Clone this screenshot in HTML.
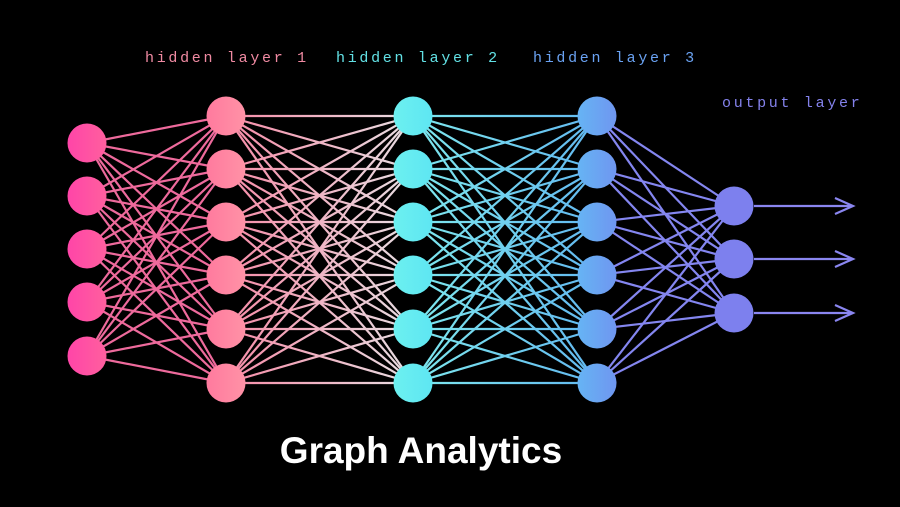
<!DOCTYPE html>
<html><head><meta charset="utf-8"><style>
html,body{margin:0;padding:0;background:#000;width:900px;height:507px;overflow:hidden}
</style></head><body>
<svg id="s" width="900" height="507" xmlns="http://www.w3.org/2000/svg" style="position:absolute;left:0;top:0">
<defs>
<linearGradient id="g12" x1="226" x2="413" y1="0" y2="0" gradientUnits="userSpaceOnUse"><stop offset="0" stop-color="#f78aa6"/><stop offset="1" stop-color="#e8e0e4"/></linearGradient>
<linearGradient id="g23" x1="413" x2="597" y1="0" y2="0" gradientUnits="userSpaceOnUse"><stop offset="0" stop-color="#7ee8ee"/><stop offset="1" stop-color="#62b8f0"/></linearGradient>
<linearGradient id="gi" x1="0" x2="1"><stop offset="0" stop-color="#ff45a8"/><stop offset="1" stop-color="#ff5f9e"/></linearGradient>
<linearGradient id="gh1" x1="0" x2="1"><stop offset="0" stop-color="#ff7a9e"/><stop offset="1" stop-color="#ff92a6"/></linearGradient>
<linearGradient id="gh2" x1="0" x2="1"><stop offset="0" stop-color="#6cf0f0"/><stop offset="1" stop-color="#5ee6f2"/></linearGradient>
<linearGradient id="gh3" x1="0" x2="1"><stop offset="0" stop-color="#66b4f4"/><stop offset="1" stop-color="#6f96f0"/></linearGradient>
</defs>
<g id="lines" stroke-width="2.2"></g>
<g id="nodes"></g>
<g stroke="#8a86f0" stroke-width="2.2" fill="none">
<path d="M754 206H853M835 198L853 206L835 214"/>
<path d="M754 259H853M835 251L853 259L835 267"/>
<path d="M754 313H853M835 305L853 313L835 321"/>
</g>
<g font-family="Liberation Mono, monospace" font-size="15" letter-spacing="2.7">
<text x="145" y="62" fill="#f08aa2">hidden layer 1</text>
<text x="336" y="62" fill="#62e0e4">hidden layer 2</text>
<text x="533" y="62" fill="#6aa2f2">hidden layer 3</text>
<text x="722" y="107" fill="#8482ec">output layer</text>
</g>
<text x="421" y="463" text-anchor="middle" font-family="Liberation Sans, sans-serif" font-weight="bold" font-size="37" fill="#fff">Graph Analytics</text>
</svg>
<script>
var ns="http://www.w3.org/2000/svg";
var L=[
 {x:87,ys:[143,196,249,302,356],f:"url(#gi)"},
 {x:226,ys:[116,169,222,275,329,383],f:"url(#gh1)"},
 {x:413,ys:[116,169,222,275,329,383],f:"url(#gh2)"},
 {x:597,ys:[116,169,222,275,329,383],f:"url(#gh3)"},
 {x:734,ys:[206,259,313],f:"#7d80ee"}];
var cols=["#ee6a9c","url(#g12)","url(#g23)","#8486f0"];
var lg=document.getElementById("lines"),ng=document.getElementById("nodes");
for(var i=0;i<4;i++){for(var a=0;a<L[i].ys.length;a++)for(var b=0;b<L[i+1].ys.length;b++){
 var l=document.createElementNS(ns,"line");
 var y1=L[i].ys[a],y2=L[i+1].ys[b];if(y1==y2)y2+=0.01;
 l.setAttribute("x1",L[i].x);l.setAttribute("y1",y1);l.setAttribute("x2",L[i+1].x);l.setAttribute("y2",y2);
 l.setAttribute("stroke",cols[i]);lg.appendChild(l);}}
L.forEach(function(c){c.ys.forEach(function(y){var e=document.createElementNS(ns,"circle");
 e.setAttribute("cx",c.x);e.setAttribute("cy",y);e.setAttribute("r",19.5);e.setAttribute("fill",c.f);ng.appendChild(e);});});
</script>
</body></html>
